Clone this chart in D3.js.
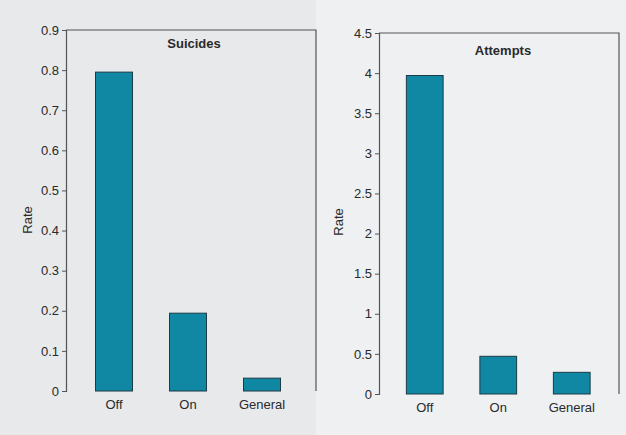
<!DOCTYPE html>
<html><head><meta charset="utf-8">
<script src="https://cdn.jsdelivr.net/npm/d3@7"></script>
<style>
html,body{margin:0;padding:0;background:#eceef0;}
svg{display:block;}
text{font-family:"Liberation Sans",Arial,sans-serif;fill:#2a2a2a;}
</style></head>
<body>
<svg id="c" width="626" height="435"></svg>
<script>
const categories = ["Off", "On", "General"];
const suicideRates = [0.795, 0.194, 0.032];
const attemptRates = [3.97, 0.47, 0.27];
const suicideTicks = [0, 0.1, 0.2, 0.3, 0.4, 0.5, 0.6, 0.7, 0.8, 0.9];
const attemptTicks = [0, 0.5, 1, 1.5, 2, 2.5, 3, 3.5, 4, 4.5];

const svg = d3.select("#c");
svg.append("rect").attr("x",0).attr("y",0).attr("width",316).attr("height",435).attr("fill","#e7e9eb");
svg.append("rect").attr("x",316).attr("y",0).attr("width",310).attr("height",435).attr("fill","#eef0f2");

function panel(cfg){
  const g = svg.append("g");
  const y = d3.scaleLinear().domain([0, cfg.max]).range([cfg.y0, cfg.y1]);
  const x = d3.scaleBand().domain(categories).range([cfg.x0 + cfg.bo, cfg.x0 + cfg.bo + 3*cfg.step])
    .paddingInner(0.5).paddingOuter(0.25);
  g.append("path").attr("d", `M${cfg.x0},${cfg.y1}H${cfg.xr}V${cfg.y0}`)
    .attr("fill","none").attr("stroke","#555").attr("stroke-width",1.2);
  g.selectAll("rect.bar").data(cfg.values).join("rect").attr("class","bar")
    .attr("x",(d,i)=>x(categories[i])).attr("width",x.bandwidth())
    .attr("y",d=>y(d)).attr("height",d=>y(0)-y(d))
    .attr("fill","#1088a4").attr("stroke","#1d3b44").attr("stroke-width",1);
  const ya = g.append("g").attr("transform",`translate(${cfg.x0},0)`)
    .call(d3.axisLeft(y).tickValues(cfg.ticks).tickSize(4).tickPadding(3).tickFormat(d3.format("")));
  ya.select(".domain").attr("stroke","#555").attr("stroke-width",1.2);
  ya.selectAll(".tick line").attr("stroke","#555");
  ya.selectAll("text").attr("font-size",13).attr("fill","#2a2a2a").attr("font-family","Liberation Sans, Arial, sans-serif");
  g.selectAll("text.cat").data(categories).join("text").attr("class","cat")
    .attr("x",d=>x(d)+x.bandwidth()/2).attr("y",cfg.y0+18)
    .attr("text-anchor","middle").attr("font-size",13).text(d=>d);
  g.append("text").attr("x",cfg.tx).attr("y",cfg.ty).attr("text-anchor","middle")
    .attr("font-size",13).attr("font-weight","bold").attr("fill","#333").text(cfg.title);
  g.append("text").attr("transform",`translate(${cfg.lx},${cfg.ly}) rotate(-90)`)
    .attr("text-anchor","middle").attr("font-size",13).text("Rate");
}

panel({x0:66, xr:316, y0:391, y1:30, max:0.9, bo:11, step:74, values:suicideRates, ticks:suicideTicks,
  title:"Suicides", tx:194, ty:48, lx:32, ly:220});
panel({x0:379, xr:619, y0:394, y1:33, max:4.5, bo:9, step:73.5, values:attemptRates, ticks:attemptTicks,
  title:"Attempts", tx:503, ty:55, lx:343, ly:222});
</script>
</body></html>
